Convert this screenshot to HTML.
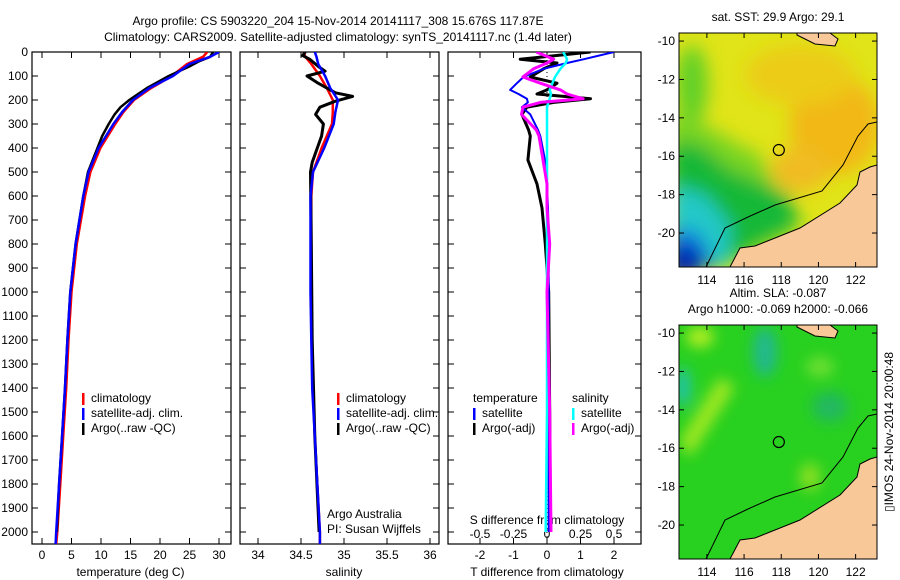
<!DOCTYPE html>
<html><head><meta charset="utf-8">
<style>
body{margin:0;background:#fff;}
svg{display:block;font-family:"Liberation Sans",sans-serif;}
text{font-size:12px;fill:#000;}
</style></head>
<body>
<svg id="fig" width="900" height="580" viewBox="0 0 900 580">
<defs>
<clipPath id="c1"><rect x="32" y="52" width="199" height="492"/></clipPath>
<clipPath id="c2"><rect x="240" y="52" width="199" height="492"/></clipPath>
<clipPath id="c3"><rect x="448" y="52" width="193" height="492"/></clipPath>
<clipPath id="cm"><rect x="679" y="33" width="198" height="234"/></clipPath>
<filter id="bl" x="-30%" y="-30%" width="160%" height="160%"><feGaussianBlur stdDeviation="9"/></filter>
<filter id="bl2" x="-30%" y="-30%" width="160%" height="160%"><feGaussianBlur stdDeviation="7"/></filter>
</defs>
<text x="338" y="25" text-anchor="middle">Argo profile: CS 5903220_204 15-Nov-2014 20141117_308 15.676S 117.87E</text>
<text x="338" y="41" text-anchor="middle">Climatology: CARS2009. Satellite-adjusted climatology: synTS_20141117.nc (1.4d later)</text>
<g id="panels"></g>
<g id="maps"></g>
<text transform="translate(893,432) rotate(-90)" text-anchor="middle">▯IMOS 24-Nov-2014 20:00:48</text>
</svg>
<script>
// ---- data ----
const depthAxisTicks=[0,100,200,300,400,500,600,700,800,900,1000,1100,1200,1300,1400,1500,1600,1700,1800,1900,2000];
const tempTicks=[0,5,10,15,20,25,30];
const salTicks=[34,34.5,35,35.5,36];
const salTickLabels=["34","34.5","35","35.5","36"];
const tdiffTicks=[-2,-1,0,1,2];
const sdiffTicks=[-0.5,-0.25,0,0.25,0.5];
const sdiffTickLabels=["-0.5","-0.25","0","0.25","0.5"];

const climDepth=[0,20,50,100,150,200,250,300,400,500,600,800,1000,1200,1400,1600,1800,2000,2050];
const climTemp=[28,27.3,24.6,22,18.5,15.6,13.8,12.4,9.9,8.2,7.3,5.9,5.0,4.5,4.1,3.6,3.1,2.6,2.4];
const satTemp=[30,28.5,25,22.2,18.2,15.4,13.6,12.1,9.6,7.9,7.0,5.7,4.8,4.3,3.9,3.4,2.9,2.4,2.3];
const argoDepth=[0,20,40,60,100,150,180,200,230,260,300,350,400,500,600,800,1000,1200,1400,1600,1800,2000];
const argoTemp=[29,28.5,26.5,25,21.5,17.8,16,14.8,13.3,12.3,11.3,10.2,9.4,7.8,7.0,5.7,4.8,4.3,3.9,3.4,2.9,2.5];

const climSal=[34.53,34.55,34.62,34.72,34.8,34.87,34.87,34.86,34.74,34.64,34.62,34.62,34.62,34.63,34.64,34.66,34.69,34.72,34.72];
const satSal=[34.66,34.68,34.7,34.78,34.84,34.93,34.9,34.88,34.77,34.64,34.61,34.61,34.61,34.62,34.63,34.66,34.69,34.72,34.72];
const argoSalDepth=[0,15,30,60,80,100,130,170,185,205,230,260,300,350,400,460,500,800,1200,1600,2000];
const argoSal=[34.55,34.52,34.6,34.7,34.78,34.57,34.7,34.9,35.1,34.9,34.72,34.67,34.76,34.74,34.69,34.63,34.61,34.62,34.63,34.66,34.71];

const difDepth=[0,30,46,70,104,130,158,175,195,210,230,260,325,350,450,550,650,800,1000,1500,2000];
const satTdiff=[2.0,1.1,0.6,-0.1,-0.7,-0.9,-1.1,-0.85,-0.6,-0.57,-0.75,-0.5,-0.27,-0.2,-0.06,0.0,0.03,0.05,0.05,0.05,0.05];
const argoTdiff=[1.3,-0.8,0.3,-0.1,-0.5,0.3,0.0,-0.3,1.3,0.2,-0.6,-0.75,-0.55,-0.5,-0.57,-0.3,-0.15,-0.05,0.05,0.08,0.1];
const satSdiff=[0.12,0.15,0.14,0.1,0.06,0.04,0.02,0.03,0.02,0.01,0.0,0.0,0.0,0.0,0.0,0.0,0.0,0.0,0.0,0.0,-0.01];
const argoSdiff=[-0.08,0.05,0.0,-0.1,-0.18,-0.05,0.1,0.15,0.27,-0.05,-0.18,-0.19,-0.08,-0.06,-0.03,0.0,0.0,0.02,0.0,0.02,0.03];

const mapLonTicks=[114,116,118,120,122];
const mapLatTicks=[-10,-12,-14,-16,-18,-20];
const argoLon=117.87, argoLat=-15.676;

// ---- helpers ----
const NS="http://www.w3.org/2000/svg";
const P=document.getElementById('panels');
const M=document.getElementById('maps');
function el(tag,attrs,parent){const e=document.createElementNS(NS,tag);for(const k in attrs)e.setAttribute(k,attrs[k]);(parent||P).appendChild(e);return e;}
const Y0=52,Y1=544,DMAX=2050;
const yD=d=>Y0+d/DMAX*(Y1-Y0);
function lin(d0,d1,r0,r1){return v=>r0+(v-d0)/(d1-d0)*(r1-r0);}
const xT=lin(0,30,42,219), xS=lin(34,36,258,430), xdT=lin(0,2,547,614), xdS=lin(0,0.5,547,614);
function line(depths,vals,xf,color,w,clip,parent,dash){
  const pts=depths.map((d,i)=>xf(vals[i]).toFixed(1)+","+yD(d).toFixed(1)).join(" ");
  const a={points:pts,fill:"none",stroke:color,"stroke-width":w,"clip-path":"url(#"+clip+")","stroke-linejoin":"round"};
  if(dash)a["stroke-dasharray"]=dash;
  return el("polyline",a,parent);
}
function frame(x,w,name){
  const r=el("rect",{x:x,y:Y0,width:w,height:Y1-Y0,fill:"none",stroke:"#000","stroke-width":1.2});
  
  
  depthAxisTicks.forEach(d=>{el("line",{x1:x,x2:x+6,y1:yD(d),y2:yD(d),stroke:"#000"});el("line",{x1:x+w-6,x2:x+w,y1:yD(d),y2:yD(d),stroke:"#000"});});
}
function xticks(ticks,labels,xf,ly,title,tname){
  ticks.forEach((t,i)=>{el("line",{x1:xf(t),x2:xf(t),y1:Y1-6,y2:Y1,stroke:"#000"});el("line",{x1:xf(t),x2:xf(t),y1:Y0,y2:Y0+6,stroke:"#000"});
    const tx=el("text",{x:xf(t),y:ly,"text-anchor":"middle"});tx.textContent=labels[i];
    
    });
  const tt=el("text",{x:(xf(ticks[0])+xf(ticks[ticks.length-1]))/2,y:576,"text-anchor":"middle"});tt.textContent=title;
  
  
}
depthAxisTicks.forEach(d=>{const t=el("text",{x:28,y:yD(d)+4,"text-anchor":"end"});t.textContent=d;
  
  });

// panel 1
frame(32,199,'temperature-panel');
xticks(tempTicks,tempTicks.map(String),xT,559,"temperature (deg C)",'temperature-axis-title');
line(climDepth,climTemp,xT,"#f00",2.5,"c1");
line(argoDepth,argoTemp,xT,"#000",2.5,"c1");
line(climDepth,satTemp,xT,"#00f",2.5,"c1");
// panel 2
frame(240,199,'salinity-panel');
xticks(salTicks,salTickLabels,xS,559,"salinity",'salinity-axis-title');
line(climDepth,climSal,xS,"#f00",2.5,"c2");
line(argoSalDepth,argoSal,xS,"#000",3,"c2");
line(climDepth,satSal,xS,"#00f",2.5,"c2");
// panel 3
frame(448,193,'difference-panel');
xticks(tdiffTicks,tdiffTicks.map(String),xdT,559,"T difference from climatology",'tdiff-axis-title');
sdiffTicks.forEach((t,i)=>{el("line",{x1:xdS(t),x2:xdS(t),y1:538,y2:544,stroke:"#000"});
  const tx=el("text",{x:xdS(t),y:538,"text-anchor":"middle"});tx.textContent=sdiffTickLabels[i];
  
  });
{const t=el("text",{x:547,y:524,"text-anchor":"middle"});t.textContent="S difference from climatology";
 
 }
line([0,2050],[0,0],xdT,"#000",1,"c3",null,"1,3");
line(difDepth,argoTdiff,xdT,"#000",3,"c3");
line(difDepth,satTdiff,xdT,"#00f",2,"c3");
line(difDepth,satSdiff,xdS,"#0ff",2.5,"c3");
line(difDepth,argoSdiff,xdS,"#f0f",3,"c3");

function legend(x,y,items,name){
  const g=el("g",{});
  items.forEach((it,i)=>{ if(it[0])el("rect",{x:x,y:y+i*15-9,width:2.5,height:12,fill:it[0]},g);
    const t=el("text",{x:x+(it[0]?9:0),y:y+i*15},g);t.textContent=it[1];});
}
legend(82,402,[["#f00","climatology"],["#00f","satellite-adj. clim."],["#000","Argo(..raw -QC)"]],'temp-legend');
legend(337,402,[["#f00","climatology"],["#00f","satellite-adj. clim."],["#000","Argo(..raw -QC)"]],'sal-legend');
legend(473,402,[[null,"temperature"],["#00f","satellite"],["#000","Argo(-adj)"]],'tdiff-legend');
legend(572,402,[[null,"salinity"],["#0ff","satellite"],["#f0f","Argo(-adj)"]],'sdiff-legend');
{const t=el("text",{x:327,y:518});t.textContent="Argo Australia";
 const t2=el("text",{x:327,y:533});t2.textContent="PI: Susan Wijffels";}

// ---- maps ----
const mx=lin(112.5,123.15,679,877), my=lin(-9.58,-21.77,33,267);
function map(dy,kind,name,titles){
  const g=el("g",{transform:"translate(0,"+dy+")"},M);
  
  
  const f=el("g",{"clip-path":"url(#cm)"},g);
  if(kind==="sst"){
    el("rect",{x:679,y:33,width:198,height:234,fill:"#e0e418"},f);
    const b=el("g",{filter:"url(#bl)"},f);
    el("ellipse",{cx:835,cy:125,rx:45,ry:50,fill:"#f2b818"},b);
    el("ellipse",{cx:800,cy:170,rx:30,ry:22,fill:"#f0bc20"},b);
    el("ellipse",{cx:800,cy:75,rx:55,ry:30,fill:"#eccc18"},b);
    el("polygon",{points:"670,115 705,125 740,145 760,155 785,205 760,235 700,267 670,267",fill:"#78d420"},b);
    el("polygon",{points:"670,140 700,145 730,170 790,195 800,225 760,245 720,267 670,267",fill:"#14b838"},b);
    el("polygon",{points:"670,185 705,195 730,225 728,267 670,267",fill:"#20c8c8"},b);
    el("polygon",{points:"670,228 698,232 715,267 670,267",fill:"#1070e0"},b);
    el("ellipse",{cx:685,cy:262,rx:20,ry:16,fill:"#0020b0"},b);
    el("ellipse",{cx:692,cy:85,rx:16,ry:40,fill:"#60d028"},b);
  } else {
    el("rect",{x:679,y:33,width:198,height:234,fill:"#28d020"},f);
    const b=el("g",{filter:"url(#bl2)"},f);
    el("polygon",{points:"679,150 720,85 735,95 690,165",fill:"#a0e820"},b);
    el("ellipse",{cx:683,cy:95,rx:6,ry:20,fill:"#20c0d0"},b);
    el("ellipse",{cx:700,cy:45,rx:14,ry:10,fill:"#b8f020"},b);
    el("ellipse",{cx:765,cy:60,rx:12,ry:25,fill:"#20b890"},b);
    el("ellipse",{cx:810,cy:185,rx:10,ry:14,fill:"#90e020"},b);
    el("ellipse",{cx:820,cy:75,rx:14,ry:10,fill:"#70e030"},b);
    el("ellipse",{cx:830,cy:115,rx:18,ry:15,fill:"#20b860"},b);
  }
  el("polygon",{points:"730,267 740,248 755,246 770,240 800,228 840,203 857,185 860,172 870,167 877,165 877,267",fill:"#f8c898",stroke:"#000","stroke-width":1},f);
  el("polygon",{points:"797,35 815,44 835,46 838,39 830,33 797,33",fill:"#f8c898",stroke:"#000","stroke-width":1},f);
  el("polyline",{points:"706,267 725,228 748,217 775,205 822,191 843,165 858,136 868,124 877,122",fill:"none",stroke:"#000","stroke-width":1},f);
  el("circle",{cx:mx(argoLon),cy:my(argoLat),r:5.5,fill:"none",stroke:"#000","stroke-width":1.2},g);
  el("rect",{x:679,y:33,width:198,height:234,fill:"none",stroke:"#000"},g);
  mapLonTicks.forEach(l=>{el("line",{x1:mx(l),x2:mx(l),y1:267,y2:262,stroke:"#000"},g);el("line",{x1:mx(l),x2:mx(l),y1:33,y2:38,stroke:"#000"},g);
    const t=el("text",{x:mx(l),y:284,"text-anchor":"middle"},g);t.textContent=l;});
  mapLatTicks.forEach(l=>{el("line",{x1:679,x2:684,y1:my(l),y2:my(l),stroke:"#000"},g);el("line",{x1:872,x2:877,y1:my(l),y2:my(l),stroke:"#000"},g);
    const t=el("text",{x:675,y:my(l)+4,"text-anchor":"end"},g);t.textContent=l;});
  titles.forEach((s,i)=>{const t=el("text",{x:778,y:21-(titles.length-1-i)*16,"text-anchor":"middle"},g);t.textContent=s;});
}
map(0,"sst",'sst-map',["sat. SST: 29.9 Argo: 29.1"]);
map(292,"sla",'sla-map',["Altim. SLA: -0.087","Argo h1000: -0.069 h2000: -0.066"]);
</script>
</body></html>
